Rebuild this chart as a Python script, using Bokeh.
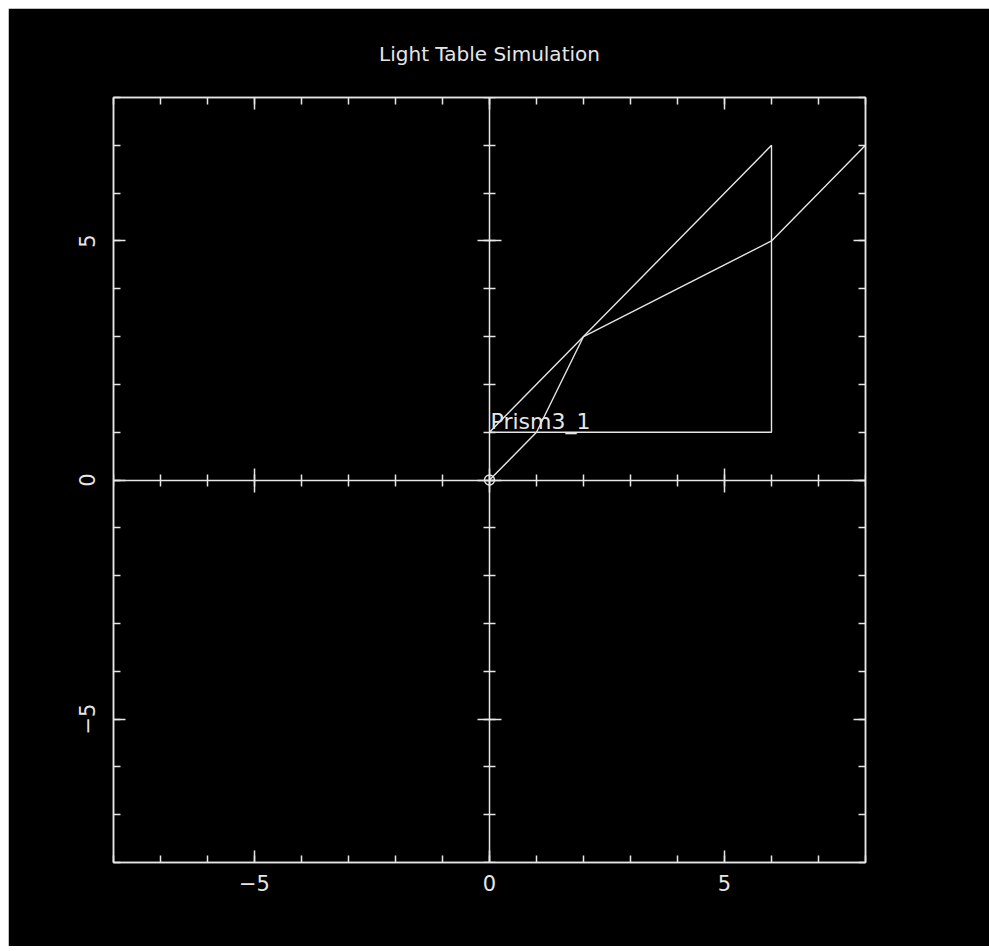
from bokeh.plotting import figure
from bokeh.models import LinearAxis, SingleIntervalTicker, Range1d, Label
from bokeh.embed import file_html
from bokeh.resources import INLINE

# ---- data ----
title_text = "Light Table Simulation"
prism_name = "Prism3_1"
prism_x = [0, 6, 6, 0]
prism_y = [1, 1, 7, 1]
ray_x = [0, 1, 2, 6, 8]
ray_y = [0, 1, 3, 5, 7]
source_x = [0]
source_y = [0]
axis_min, axis_max = -8, 8
major_step = 5

FG = "#e6e6e6"
FONT = "DejaVu Sans"

p = figure(width=981, height=938, output_backend="svg", toolbar_location=None,
           x_range=Range1d(axis_min, axis_max), y_range=Range1d(axis_min, axis_max),
           x_axis_location=None, y_axis_location=None,
           min_border_left=105, min_border_right=124, min_border_top=89, min_border_bottom=84)
p.margin = (8, 0, 0, 8)
p.background_fill_color = "black"
p.border_fill_color = "black"
p.outline_line_color = FG
p.outline_line_width = 1.5
p.grid.visible = False

p.title.text = title_text
p.title.align = "center"
p.title.text_color = FG
p.title.text_font = FONT
p.title.text_font_style = "normal"
p.title.text_font_size = "20px"
p.title.standoff = 63


def make_axis(show_labels, tin_major=12, tout_major=0, tin_minor=7, tout_minor=0, fixed=None):
    ax = LinearAxis(ticker=SingleIntervalTicker(interval=major_step, num_minor_ticks=5))
    ax.axis_line_color = FG
    ax.axis_line_width = 1.5
    ax.major_tick_line_color = FG
    ax.minor_tick_line_color = FG
    ax.major_tick_line_width = 1.5
    ax.minor_tick_line_width = 1.5
    ax.major_tick_in = tin_major
    ax.major_tick_out = tout_major
    ax.minor_tick_in = tin_minor
    ax.minor_tick_out = tout_minor
    ax.major_label_text_color = FG
    ax.major_label_text_font = FONT
    ax.major_label_text_font_size = "21px" if show_labels else "0px"
    if not show_labels:
        ax.major_label_text_alpha = 0
        ax.major_label_standoff = 0
    if fixed is not None:
        ax.fixed_location = fixed
    return ax


bottom = make_axis(True)
bottom.major_label_standoff = 12
left = make_axis(True)
left.major_label_orientation = "vertical"
left.major_label_standoff = 19
top = make_axis(False)
right = make_axis(False)
p.add_layout(bottom, "below")
p.add_layout(left, "left")
p.add_layout(top, "above")
p.add_layout(right, "right")

# center axes through the origin
cx = make_axis(False, tin_major=12, tout_major=12, tin_minor=6, tout_minor=6, fixed=0)
cy = make_axis(False, tin_major=12, tout_major=12, tin_minor=6, tout_minor=6, fixed=0)
p.add_layout(cx, "below")
p.add_layout(cy, "left")

# prism and ray
p.line(prism_x, prism_y, line_color=FG, line_width=1.4)
p.line(ray_x, ray_y, line_color=FG, line_width=1.4)
p.scatter(source_x, source_y, marker="circle", size=10, fill_color=None, line_color=FG, line_width=1.3)

p.add_layout(Label(x=prism_x[0], y=prism_y[0], text=prism_name, text_color=FG,
                   text_font=FONT, text_font_size="22px", text_baseline="bottom",
                   x_offset=1, y_offset=-2))

open("out.html", "w").write(file_html(p, INLINE))
